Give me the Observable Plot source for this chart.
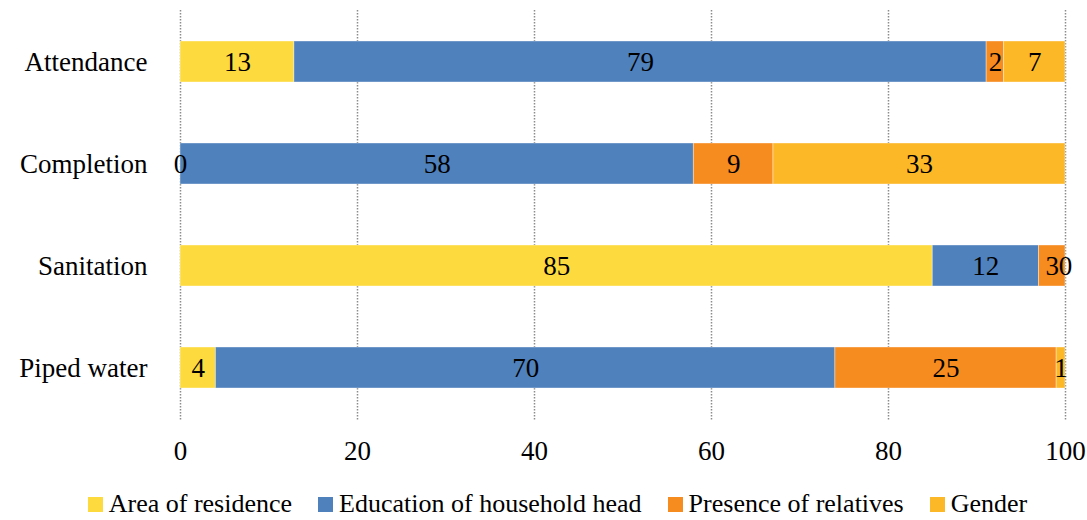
<!DOCTYPE html>
<html>
<head>
<meta charset="utf-8">
<script src="https://cdn.jsdelivr.net/npm/d3@7"></script>
<script src="https://cdn.jsdelivr.net/npm/@observablehq/plot@0.6"></script>
<style>
  html, body { margin: 0; padding: 0; background: #fff; }
  #chart { width: 1087px; font-family: 'Liberation Serif', 'DejaVu Serif', Times, serif; }
  .legend {
    display: flex; justify-content: center; align-items: center;
    font-size: 26px; line-height: 24px; color: #000; margin-top: 22px; padding-left: 28px;
  }
  .legend .item { display: flex; align-items: center; margin: 0 13px; }
  .legend .sw { width: 15px; height: 15px; margin-right: 6px; }
</style>
</head>
<body>
<div id="chart"></div>
<script>
// Indicators (rows) and the factors whose contributions are stacked
const indicators = ["Attendance", "Completion", "Sanitation", "Piped water"];
const factors = ["Area of residence", "Education of household head", "Presence of relatives", "Gender"];
const factorColors = ["#FDDA3E", "#4F81BD", "#F68B1F", "#FDB827"];

// Contribution (%) of each factor, per indicator, in factor order
const attendance = [13, 79, 2, 7];
const completion = [0, 58, 9, 33];
const sanitation = [85, 12, 3, 0];
const pipedWater = [4, 70, 25, 1];

const xTicks = [0, 20, 40, 60, 80, 100];

const rows = [attendance, completion, sanitation, pipedWater];
const data = [];
indicators.forEach((ind, i) => {
  factors.forEach((f, j) => data.push({indicator: ind, factor: f, value: rows[i][j]}));
});

const serif = "'Liberation Serif', 'DejaVu Serif', Times, serif";

// Each row is normalized so that its segments fill 0–100
const stack = {y: "indicator", x: "value", z: "factor", order: factors, offset: "normalize"};

const chart = Plot.plot({
  width: 1087,
  height: 470,
  marginTop: 10,
  marginBottom: 52,
  marginLeft: 180,
  marginRight: 22,
  style: {fontFamily: serif, fontSize: "27px", color: "#000", background: "#fff"},
  x: {domain: [0, 100], percent: true, label: null},
  y: {domain: indicators, paddingInner: 0.6, paddingOuter: 0.3, label: null},
  color: {domain: factors, range: factorColors},
  marks: [
    Plot.gridX({ticks: xTicks, stroke: "#8c8c8c", strokeOpacity: 1, strokeWidth: 1.5, strokeDasharray: "1.5,1.5", insetBottom: -3}),
    Plot.barX(data, Plot.stackX({...stack, fill: "factor", stroke: "#fff", strokeOpacity: 0.5, strokeWidth: 0.75})),
    Plot.text(data, Plot.stackX({...stack, text: d => String(d.value), fill: "#000", fontSize: 27})),
    Plot.axisX({ticks: xTicks, tickSize: 0, tickPadding: 22, fontSize: 27, label: null, tickFormat: d => String(d)}),
    Plot.axisY({tickSize: 0, tickPadding: 33, fontSize: 27, label: null})
  ]
});

const container = document.getElementById("chart");
container.appendChild(chart);

// Legend row below the plot
const legend = document.createElement("div");
legend.className = "legend";
factors.forEach((f, i) => {
  const item = document.createElement("div");
  item.className = "item";
  const sw = document.createElement("span");
  sw.className = "sw";
  sw.style.background = factorColors[i];
  const label = document.createElement("span");
  label.textContent = f;
  item.appendChild(sw);
  item.appendChild(label);
  legend.appendChild(item);
});
container.appendChild(legend);
</script>
</body>
</html>
